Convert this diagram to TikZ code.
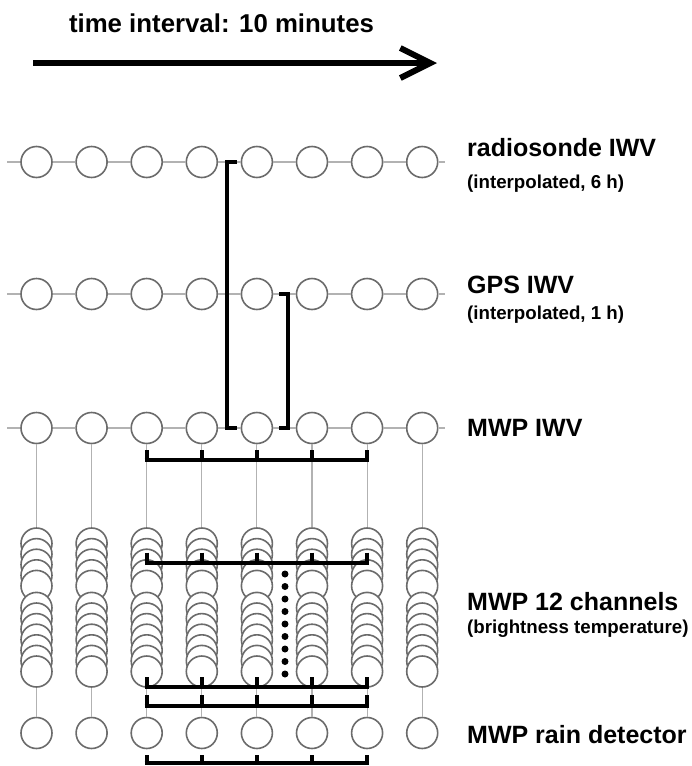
\documentclass[tikz,border=0pt]{standalone}
\usepackage{fontspec}
\setmainfont{Liberation Sans}
\usetikzlibrary{arrows.meta}

\begin{document}
\begin{tikzpicture}[
x=1pt, y=-1pt,
sample/.style={circle, draw=black!58, fill=white, line width=1.6pt, minimum size=31pt, inner sep=0pt},
rowline/.style={draw=black!30, line width=1.1pt},
bracket/.style={line width=4pt},
titletext/.style={anchor=base, inner sep=0pt, font=\bfseries\fontsize{25.8}{30}\selectfont},
rowtext/.style={anchor=base west, inner sep=0pt, font=\bfseries\fontsize{25}{28}\selectfont},
subtext/.style={anchor=base west, inner sep=0pt, font=\bfseries\fontsize{18.7}{21}\selectfont}
]
\useasboundingbox (0,0) rectangle (692,766);

% time axis
\node[titletext] (title) at (221.5,32) {time interval: 10 minutes};
\coordinate (tstart) at (33,63);
\coordinate (tend) at (437,63);
\draw[line width=6pt, -{Straight Barb[length=30pt, width=30pt]}] (tstart) -- (tend);

% sample rows
\foreach \i in {1,...,8} {
  \pgfmathsetmacro{\cx}{36.5+55.1*(\i-1)}
  \node[sample] (r\i) at (\cx,162) {};
  \node[sample] (g\i) at (\cx,294) {};
  \node[sample] (m\i) at (\cx,428) {};
  \node[sample] (d\i) at (\cx,733) {};
  % 12 channels
  \foreach \k in {1,...,12} {
    \pgfmathsetmacro{\cy}{\k<6 ? 543.5+10.6*(\k-1) : 607.9+10.6*(\k-6)}
    \node[sample] (ch\i-\k) at (\cx,\cy) {};
  }
}

\foreach \row/\yy in {r/162, g/294, m/428} {
  \coordinate (\row-west) at (7,\yy);
  \coordinate (\row-east) at (445,\yy);
  \draw[rowline] (\row-west) -- (\row1);
  \foreach \i [evaluate=\i as \j using int(\i+1)] in {1,...,7}
    \draw[rowline] (\row\i) -- (\row\j);
  \draw[rowline] (\row8) -- (\row-east);
}
\foreach \i in {1,...,8} {
  \draw[rowline] (m\i) -- (ch\i-1);
  \draw[rowline] (ch\i-12) -- (d\i);
}

% brackets
\draw[bracket] (237,162) -- (226.5,162) -- (226.5,428) -- (237,428);
\draw[bracket] (279,294) -- (287.5,294) -- (287.5,428) -- (279,428);
\foreach \ybar/\ytip in {460/450, 562.7/552.7, 687/677, 706/695, 763/755} {
  \draw[bracket] (144.7,\ybar) -- (369.1,\ybar);
  \foreach \i in {3,...,7}
    \draw[bracket] ({36.5+55.1*(\i-1)},\ytip) -- ({36.5+55.1*(\i-1)},\ybar);
}
\foreach \k in {0,...,8}
  \fill (285,{574+12.5*\k}) circle (3.5pt);

% labels
\node[rowtext] (rlab) at (467,156) {radiosonde IWV};
\node[subtext] (rsub) at (467,188) {(interpolated, 6 h)};
\node[rowtext] (glab) at (467,293) {GPS IWV};
\node[subtext] (gsub) at (467,319) {(interpolated, 1 h)};
\node[rowtext] (mlab) at (467,436) {MWP IWV};
\node[rowtext] (clab) at (467,610) {MWP 12 channels};
\node[subtext] (csub) at (467,633) {(brightness temperature)};
\node[rowtext] (dlab) at (467,743) {MWP rain detector};
\end{tikzpicture}
\end{document}
